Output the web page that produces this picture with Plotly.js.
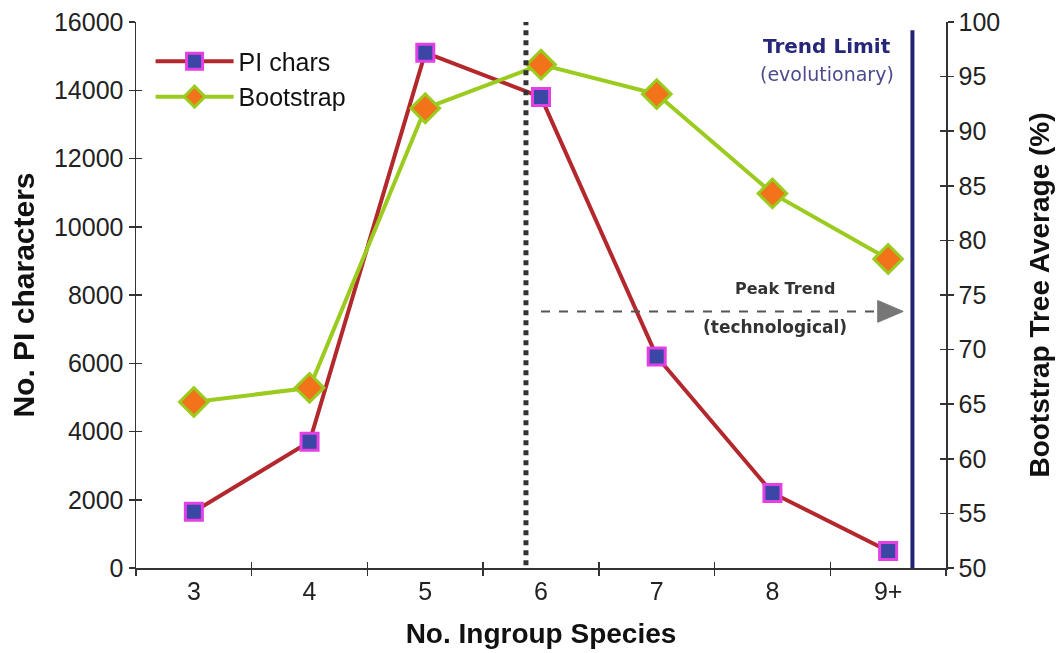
<!DOCTYPE html>
<html>
<head>
<meta charset="utf-8">
<script src="https://cdn.plot.ly/plotly-3.0.1.min.js"></script>
<style>html,body{margin:0;padding:0;background:#fff;}#chart{width:1064px;height:653px;}</style>
</head>
<body>
<div id="chart"></div>
<script>
const categories = ['3', '4', '5', '6', '7', '8', '9+'];
const piChars = [1650, 3700, 15100, 13800, 6200, 2200, 500];
const bootstrap = [65.2, 66.5, 92.1, 96.1, 93.4, 84.3, 78.3];
const leftTicks = [0, 2000, 4000, 6000, 8000, 10000, 12000, 14000, 16000];
const rightTicks = [50, 55, 60, 65, 70, 75, 80, 85, 90, 95, 100];

const tickFont = {family: 'Liberation Sans, Arial, sans-serif', size: 25, color: '#222'};
const titleFont = {family: 'Liberation Sans, Arial, sans-serif', size: 28, color: '#111', weight: 'bold'};
const yTitleFont = {family: 'Liberation Sans, Arial, sans-serif', size: 30, color: '#111', weight: 'bold'};

const traces = [
  {
    x: categories, y: piChars, name: 'PI chars', type: 'scatter', mode: 'lines+markers',
    xaxis: 'x', yaxis: 'y',
    line: {color: '#b3282d', width: 4},
    marker: {symbol: 'square', size: 17, color: '#3a47a5', line: {color: '#e23fe4', width: 3}}
  },
  {
    x: categories, y: bootstrap, name: 'Bootstrap', type: 'scatter', mode: 'lines+markers',
    xaxis: 'x', yaxis: 'y2',
    line: {color: '#9acb1e', width: 4},
    marker: {symbol: 'diamond', size: 22, color: '#f2731a', line: {color: '#9acb1e', width: 3}}
  },
  // invisible helpers so the inner tick overlays are drawn
  {x: categories, y: piChars, xaxis: 'x2', yaxis: 'y3', mode: 'markers', opacity: 0,
   showlegend: false, hoverinfo: 'skip'},
  {x: categories, y: bootstrap, xaxis: 'x2', yaxis: 'y4', mode: 'markers', opacity: 0,
   showlegend: false, hoverinfo: 'skip'}
];

const axisCommon = {showgrid: false, zeroline: false, showline: true, linecolor: '#333', linewidth: 1.5,
  tickcolor: '#333', tickwidth: 1.5, ticklen: 6};

const layout = {
  width: 1064, height: 653,
  margin: {l: 136, r: 118, t: 22, b: 85},
  paper_bgcolor: '#fff', plot_bgcolor: '#fff',
  showlegend: true,
  legend: {x: 0.018, y: 0.97, xanchor: 'left', yanchor: 'top', bgcolor: 'rgba(0,0,0,0)',
    font: {family: 'Liberation Sans, Arial, sans-serif', size: 25, color: '#111'},
    itemwidth: 78, tracegroupgap: 0},
  xaxis: Object.assign({}, axisCommon, {
    type: 'category', categoryorder: 'array', categoryarray: categories,
    range: [-0.5, 6.5], ticks: 'outside', tickson: 'boundaries',
    tickfont: tickFont,
    title: {text: 'No. Ingroup Species', font: titleFont, standoff: 20}
  }),
  xaxis2: Object.assign({}, axisCommon, {
    type: 'category', categoryorder: 'array', categoryarray: categories,
    range: [-0.5, 6.5], ticks: 'inside', tickson: 'boundaries', overlaying: 'x',
    showticklabels: false, showline: false
  }),
  yaxis: Object.assign({}, axisCommon, {
    range: [0, 16000], tickvals: leftTicks, ticktext: leftTicks.map(String),
    ticks: 'outside', tickfont: tickFont,
    title: {text: 'No. PI characters', font: yTitleFont, standoff: 10}
  }),
  yaxis2: Object.assign({}, axisCommon, {
    range: [50, 100], tickvals: rightTicks, ticktext: rightTicks.map(String),
    ticks: 'outside', side: 'right', overlaying: 'y', tickfont: tickFont,
    title: {text: 'Bootstrap Tree Average (%)', font: titleFont, standoff: 30}
  }),
  yaxis3: Object.assign({}, axisCommon, {
    range: [0, 16000], tickvals: leftTicks, ticks: 'inside', overlaying: 'y',
    showticklabels: false, showline: false
  }),
  yaxis4: Object.assign({}, axisCommon, {
    range: [50, 100], tickvals: rightTicks, ticks: 'inside', overlaying: 'y', side: 'right',
    showticklabels: false, showline: false
  }),
  shapes: [
    // dotted divider
    {type: 'line', xref: 'x', yref: 'paper', x0: 2.87, x1: 2.87, y0: 0.005, y1: 1,
     line: {color: '#333', width: 5, dash: 'dot'}},
    // trend limit
    {type: 'line', xref: 'x', yref: 'paper', x0: 6.21, x1: 6.21, y0: 0, y1: 0.985,
     line: {color: '#23237a', width: 4}},
    // peak trend dashed arrow shaft
    {type: 'line', xref: 'x', yref: 'y', x0: 3.0, x1: 5.9, y0: 7520, y1: 7520,
     line: {color: '#555', width: 2, dash: 'dash'}},
    // arrow head
    {type: 'path', xref: 'x', yref: 'y',
     path: 'M 5.91 7840 L 6.13 7520 L 5.91 7200 Z',
     fillcolor: '#777', line: {color: '#777', width: 1}}
  ],
  annotations: [
    {xref: 'x', yref: 'y', x: 5.11, y: 8180, yanchor: 'middle', text: '<b>Peak Trend</b>', showarrow: false,
     font: {family: 'DejaVu Sans, Verdana, sans-serif', size: 16, color: '#333'}},
    {xref: 'x', yref: 'y', x: 5.02, y: 7050, yanchor: 'middle', text: '<b>(technological)</b>', showarrow: false,
     font: {family: 'DejaVu Sans, Verdana, sans-serif', size: 17, color: '#333'}},
    {xref: 'x', yref: 'paper', x: 5.47, y: 0.956, yanchor: 'middle', text: '<b>Trend Limit</b>', showarrow: false,
     font: {family: 'DejaVu Sans, Verdana, sans-serif', size: 20, color: '#26267a'}},
    {xref: 'x', yref: 'paper', x: 5.47, y: 0.905, yanchor: 'middle', text: '(evolutionary)', showarrow: false,
     font: {family: 'DejaVu Sans, Verdana, sans-serif', size: 19, color: '#4a4a8c'}}
  ]
};

Plotly.newPlot('chart', traces, layout, {displayModeBar: false, staticPlot: true});
</script>
</body>
</html>
